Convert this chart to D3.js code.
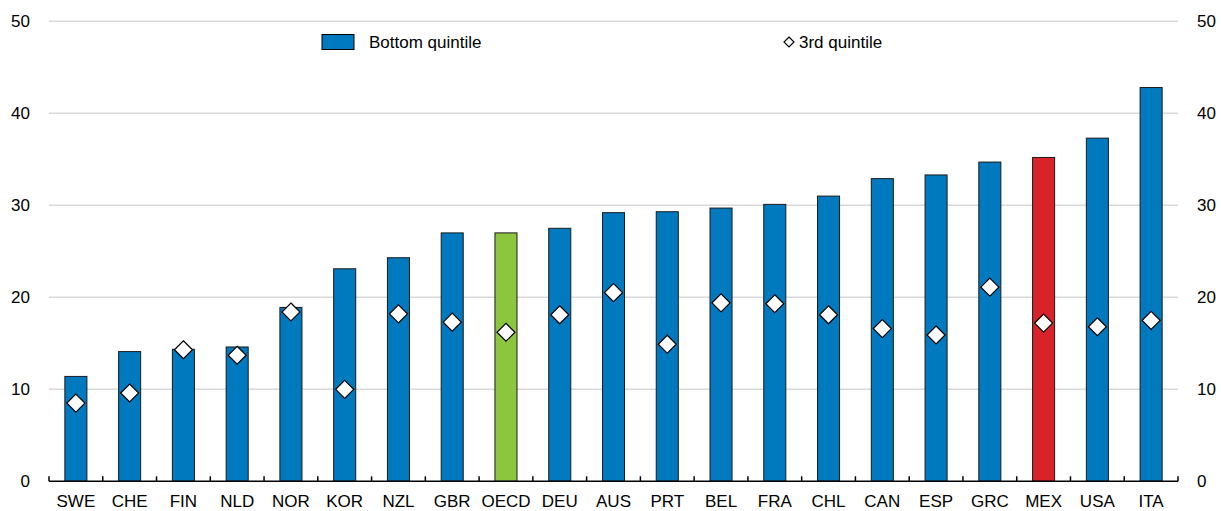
<!DOCTYPE html>
<html lang="en">
<head>
    <meta charset="UTF-8">
    <title>Bottom vs 3rd quintile</title>
    <script src="https://d3js.org/d3.v7.min.js"></script>
    <style>
        body {
            margin: 0;
            background: #fff;
            font-family: "Liberation Sans", Arial, sans-serif;
        }
        .tick-label {
            font-size: 17px;
            fill: #000;
        }
    </style>
</head>
<body>
    <svg id="chart" width="1221" height="511"></svg>

    <script>
        // Data
        const countries = ["SWE", "CHE", "FIN", "NLD", "NOR", "KOR", "NZL", "GBR", "OECD", "DEU", "AUS",
                           "PRT", "BEL", "FRA", "CHL", "CAN", "ESP", "GRC", "MEX", "USA", "ITA"];
        const bottomQuintile = [11.4, 14.1, 14.35, 14.6, 18.9, 23.1, 24.3, 27.0, 27.0, 27.5, 29.2,
                                29.3, 29.7, 30.1, 31.0, 32.9, 33.3, 34.7, 35.2, 37.3, 42.8];
        const thirdQuintile = [8.5, 9.6, 14.3, 13.7, 18.4, 10.0, 18.2, 17.3, 16.2, 18.1, 20.5,
                               14.9, 19.4, 19.3, 18.1, 16.6, 15.9, 21.1, 17.2, 16.8, 17.5];
        const yTicks = [0, 10, 20, 30, 40, 50];
        const highlight = { "OECD": "#8cc63f", "MEX": "#d9232a" };
        const barBlue = "#0079bf";

        const margin = { top: 21.3, right: 43, bottom: 29.7, left: 49 };
        const width = 1221 - margin.left - margin.right;
        const height = 511 - margin.top - margin.bottom;

        const svg = d3.select("#chart")
            .append("g")
            .attr("transform", `translate(${margin.left},${margin.top})`);

        const x = d3.scaleBand()
            .domain(countries)
            .range([0, width])
            .padding(0);

        const y = d3.scaleLinear()
            .domain([0, 50])
            .range([height, 0]);

        // Gridlines
        svg.selectAll(".grid")
            .data(yTicks.filter(d => d > 0))
            .join("line")
            .attr("class", "grid")
            .attr("x1", 0)
            .attr("x2", width)
            .attr("y1", d => y(d))
            .attr("y2", d => y(d))
            .attr("stroke", "#d9d9d9")
            .attr("stroke-width", 1.5);

        // Y labels left and right
        svg.selectAll(".yl")
            .data(yTicks)
            .join("text")
            .attr("class", "tick-label yl")
            .attr("x", -19)
            .attr("y", d => y(d))
            .attr("dy", "0.35em")
            .attr("text-anchor", "end")
            .text(d => d);

        svg.selectAll(".yr")
            .data(yTicks)
            .join("text")
            .attr("class", "tick-label yr")
            .attr("x", width + 19)
            .attr("y", d => y(d))
            .attr("dy", "0.35em")
            .attr("text-anchor", "start")
            .text(d => d);

        // Bars
        const rows = countries.map((c, i) => ({ c, b: bottomQuintile[i], t: thirdQuintile[i] }));
        const barW = x.bandwidth() * 0.41;

        svg.selectAll(".bar")
            .data(rows)
            .join("rect")
            .attr("class", "bar")
            .attr("x", d => x(d.c) + (x.bandwidth() - barW) / 2)
            .attr("y", d => y(d.b))
            .attr("width", barW)
            .attr("height", d => height - y(d.b))
            .attr("fill", d => highlight[d.c] || barBlue)
            .attr("stroke", "#1a1a1a")
            .attr("stroke-width", 1);

        // Diamonds
        const diamond = s => `M0,${-s}L${s},0L0,${s}L${-s},0Z`;
        svg.selectAll(".dia")
            .data(rows)
            .join("path")
            .attr("class", "dia")
            .attr("transform", d => `translate(${x(d.c) + x.bandwidth() / 2},${y(d.t)})`)
            .attr("d", diamond(9))
            .attr("fill", "#fff")
            .attr("stroke", "#000")
            .attr("stroke-width", 1.2);

        // X axis with ticks between categories
        const xAxis = svg.append("g").attr("transform", `translate(0,${height})`);
        xAxis.append("line")
            .attr("x1", 0).attr("x2", width)
            .attr("stroke", "#000").attr("stroke-width", 1.5);
        xAxis.selectAll(".xt")
            .data(d3.range(countries.length + 1))
            .join("line")
            .attr("x1", i => i * x.step())
            .attr("x2", i => i * x.step())
            .attr("y1", 0).attr("y2", -5)
            .attr("stroke", "#000").attr("stroke-width", 1.5);
        xAxis.selectAll(".xl")
            .data(countries)
            .join("text")
            .attr("class", "tick-label xl")
            .attr("x", d => x(d) + x.bandwidth() / 2)
            .attr("y", 25.5)
            .attr("text-anchor", "middle")
            .text(d => d);

        // Legend
        const legend = d3.select("#chart").append("g");
        legend.append("rect")
            .attr("x", 322).attr("y", 34.5)
            .attr("width", 32).attr("height", 15)
            .attr("fill", barBlue).attr("stroke", "#000").attr("stroke-width", 1);
        legend.append("text")
            .attr("class", "tick-label")
            .attr("x", 369).attr("y", 42)
            .attr("dy", "0.35em")
            .text("Bottom quintile");
        legend.append("path")
            .attr("transform", "translate(789,42)")
            .attr("d", diamond(5))
            .attr("fill", "#fff").attr("stroke", "#000").attr("stroke-width", 1.2);
        legend.append("text")
            .attr("class", "tick-label")
            .attr("x", 799).attr("y", 42)
            .attr("dy", "0.35em")
            .text("3rd quintile");
    </script>
</body>
</html>
